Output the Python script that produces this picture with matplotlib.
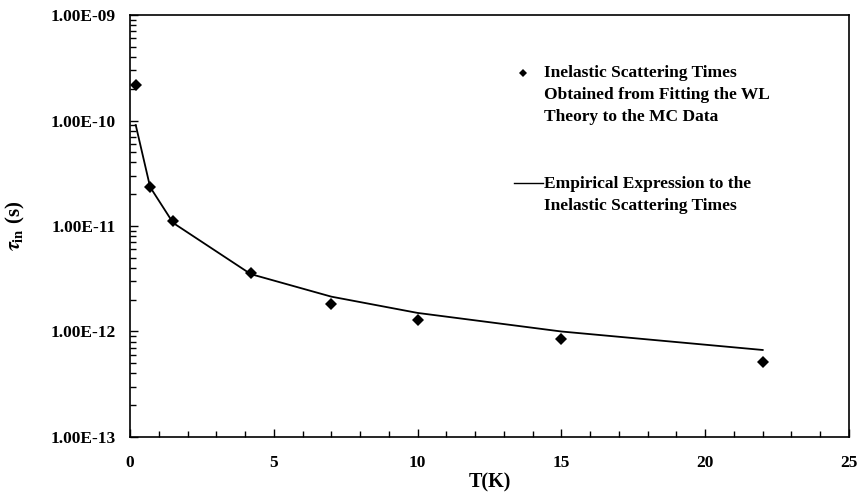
import numpy as np
import matplotlib
matplotlib.use("Agg")
import matplotlib.pyplot as plt
from matplotlib.ticker import FixedLocator, LogLocator, FuncFormatter, MultipleLocator, NullFormatter
from matplotlib.lines import Line2D

plt.rcParams['font.family'] = ['Liberation Serif', 'DejaVu Serif']
plt.rcParams['font.weight'] = 'bold'
plt.rcParams['mathtext.fontset'] = 'stix'

# Temperature (K)
temperature = [0.2, 0.7, 1.5, 4.2, 7, 10, 15, 22]
# Inelastic scattering times from WL fits (s)
tau_fit = [2.17e-10, 2.34e-11, 1.11e-11, 3.61e-12, 1.81e-12, 1.29e-12, 8.5e-13, 5.18e-13]
# Empirical expression evaluated at the same temperatures (s)
tau_empirical = [9.06e-11, 2.34e-11, 1.07e-11, 3.5e-12, 2.14e-12, 1.5e-12, 1.0e-12, 6.68e-13]

y_ticks = [1e-13, 1e-12, 1e-11, 1e-10, 1e-9]
x_ticks = [0, 5, 10, 15, 20, 25]


def sci_label(v, pos):
    exp = int(np.floor(np.log10(v) + 1e-9))
    mant = v / 10 ** exp
    sign = '-' if exp < 0 else '+'
    return "{:.2f}E{}{:02d}".format(mant, sign, abs(exp))


fig = plt.figure(figsize=(8.58, 4.94), dpi=100)
ax = fig.add_axes([0.1515, 0.1154, 0.838, 0.8542])

ax.plot(temperature, tau_empirical, color='black', lw=1.3)
ax.plot(temperature, tau_fit, linestyle='none', marker='D', ms=6.3,
        color='black', markeredgewidth=0)

ax.set_yscale('log')
ax.set_xlim(0, 25)
ax.set_ylim(1e-13, 1e-9)

ax.yaxis.set_major_locator(FixedLocator(y_ticks))
ax.yaxis.set_minor_locator(LogLocator(base=10, subs=np.arange(2, 10)))
ax.yaxis.set_minor_formatter(NullFormatter())
ax.yaxis.set_major_formatter(FuncFormatter(sci_label))
ax.xaxis.set_major_locator(FixedLocator(x_ticks))
ax.xaxis.set_minor_locator(MultipleLocator(1))

ax.tick_params(which='both', direction='in', top=False, right=False,
               labelsize=12.5, width=1)
ax.tick_params(which='major', length=6)
ax.tick_params(which='minor', length=4)
ax.tick_params(axis='y', which='major', pad=10.5)
ax.tick_params(axis='x', which='major', pad=13)
for s in ax.spines.values():
    s.set_linewidth(1.2)

ax.set_xlabel('T(K)', fontsize=14.5, fontweight='bold', labelpad=1)
ax.set_ylabel(r'$\tau_{\mathbf{in}}$ (s)', fontsize=15, fontweight='bold', labelpad=17)

# Legend keys and labels
ax.add_line(Line2D([0.546], [0.862], transform=ax.transAxes, marker='D', ms=4.5,
                   color='black', markeredgewidth=0, linestyle='none'))
ax.text(0.576, 0.810, "Inelastic Scattering Times\nObtained from Fitting the WL\nTheory to the MC Data",
        transform=ax.transAxes, fontsize=12.5, fontweight='bold', va='center', ha='left',
        linespacing=1.5)
ax.add_line(Line2D([0.534, 0.575], [0.601, 0.601], transform=ax.transAxes,
                   color='black', lw=1.0))
ax.text(0.576, 0.574, "Empirical Expression to the\nInelastic Scattering Times",
        transform=ax.transAxes, fontsize=12.5, fontweight='bold', va='center', ha='left',
        linespacing=1.5)

fig.savefig('out.png', dpi=100)
